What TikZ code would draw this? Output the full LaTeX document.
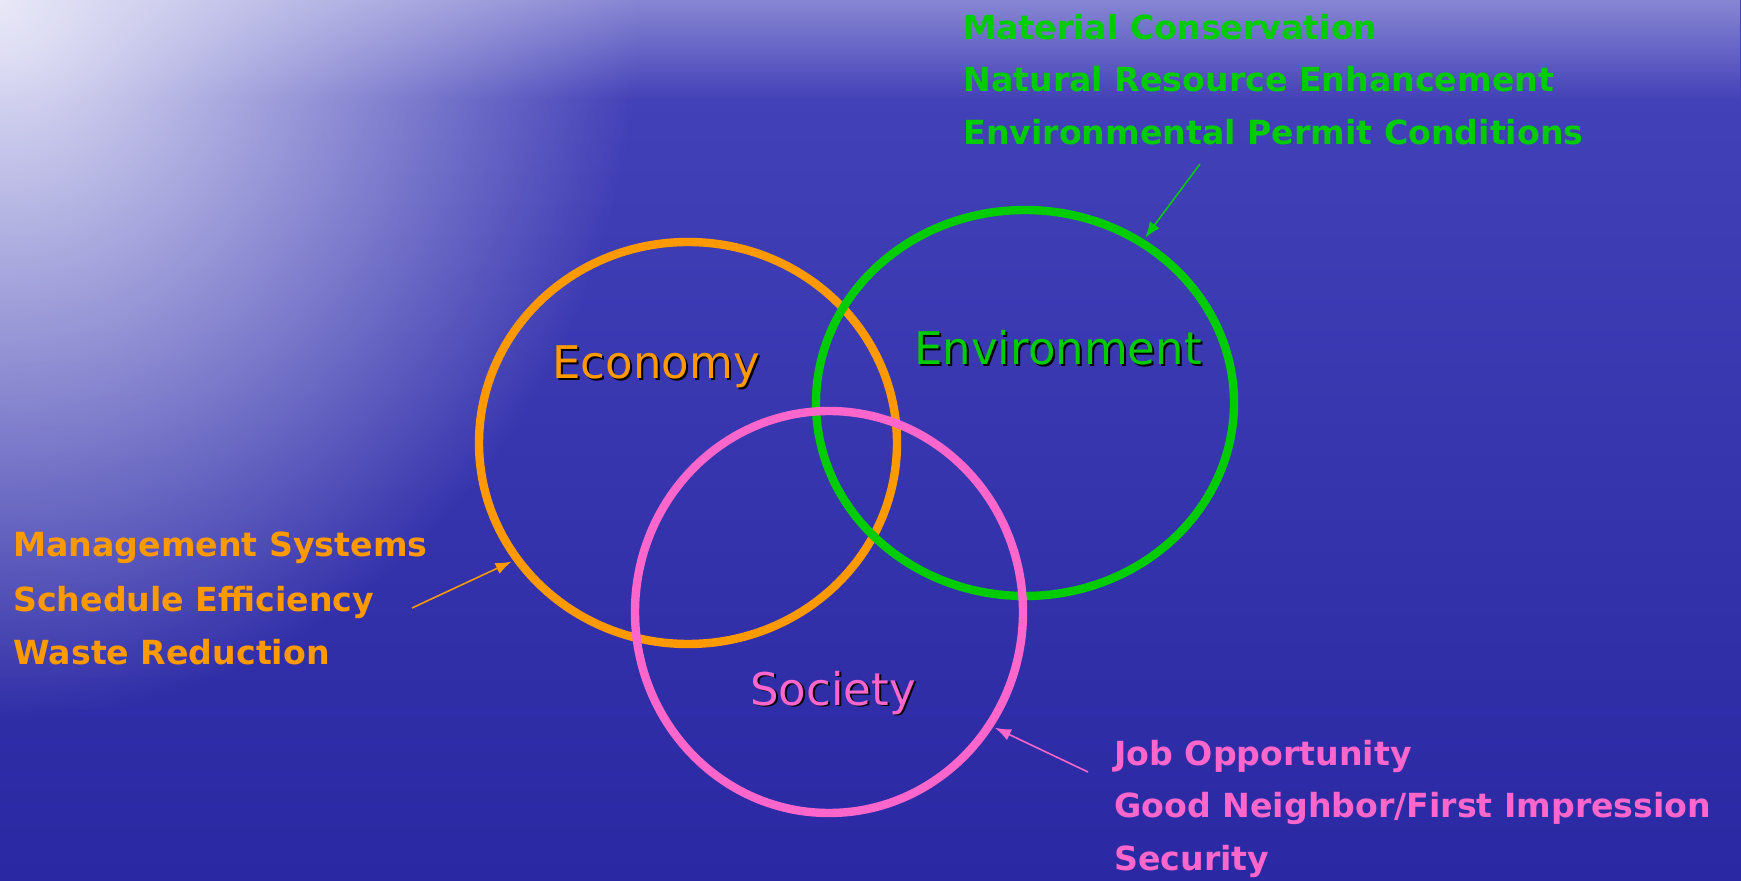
\documentclass[tikz,border=0pt]{standalone}
\usepackage{fontspec}
\setmainfont{DejaVu Sans}
\usetikzlibrary{shapes.geometric, fadings, arrows.meta}

\definecolor{seablue}{RGB}{42,40,162}
\definecolor{skyblue}{RGB}{70,68,186}
\definecolor{haze}{RGB}{232,232,248}
\definecolor{ecoorange}{RGB}{255,153,0}
\definecolor{envgreen}{RGB}{0,204,0}
\definecolor{socpink}{RGB}{255,102,204}

\tikzfading[name=glowfade, inner color=transparent!0, outer color=transparent!100]
\tikzfading[name=topfade, top color=transparent!0, bottom color=transparent!100]

% black copy behind the circle titles
\newcommand{\dropped}[1]{\makebox[0pt][l]{\kern1pt\raisebox{-1pt}{\color{black}#1}}#1}

\tikzset{
  ring/.style={ellipse, draw, line width=4.2pt, inner sep=0pt},
  title/.style={font=\fontsize{22.5}{27}\selectfont, anchor=base, inner sep=0pt},
  item/.style={font=\bfseries\fontsize{16.6}{20}\selectfont, anchor=base west, inner sep=0pt},
  pointer/.style={->, line width=0.8pt, shorten >=1pt}
}

\begin{document}
\begin{tikzpicture}[x=0.5pt, y=-0.5pt, >={Latex[length=8pt,width=6pt]}]
  \useasboundingbox (0,0) rectangle (1741,881);
  % water backdrop
  \shade[top color=skyblue, bottom color=seablue] (0,0) rectangle (1741,881);
  \fill[haze!40!skyblue, path fading=topfade] (0,0) rectangle (1741,100);
  \begin{scope}
    \clip (0,0) rectangle (1741,881);
    \fill[haze, path fading=glowfade] (0,0) ellipse (640 and 720);
  \end{scope}

  % the three circles
  \node[ring, draw=ecoorange, minimum width=209pt, minimum height=201pt] (eco) at (688,443) {};
  \node[ring, draw=envgreen, minimum width=209pt, minimum height=193pt] (env) at (1025,403) {};
  \node[ring, draw=socpink, minimum width=194pt, minimum height=201pt] (soc) at (829,612) {};

  \node[title, ecoorange] (ecotitle) at (656,379) {\dropped{Economy}};
  \node[title, envgreen] (envtitle) at (1058,365) {\dropped{Environment}};
  \node[title, socpink] (soctitle) at (833,705) {\dropped{Society}};

  % environment items
  \node[item, envgreen] (mat) at (963,40) {Material Conservation};
  \node[item, envgreen] (nat) at (963,92) {Natural Resource Enhancement};
  \node[item, envgreen] (perm) at (963,145) {Environmental Permit Conditions};

  % economy items
  \node[item, ecoorange] (mgmt) at (13,557) {Management Systems};
  \node[item, ecoorange] (sched) at (13,612) {Schedule Efficiency};
  \node[item, ecoorange] (waste) at (13,665) {Waste Reduction};

  % society items
  \node[item, socpink] (job) at (1114,765) {Job Opportunity};
  \node[item, socpink] (good) at (1114,817) {Good Neighbor/First Impression};
  \node[item, socpink] (sec) at (1114,870) {Security};

  \coordinate (envfrom) at (1200,164);
  \coordinate (ecofrom) at (412,608);
  \coordinate (socfrom) at (1088,772);
  \draw[pointer, envgreen] (envfrom) -- (env.54);
  \draw[pointer, ecoorange] (ecofrom) -- (eco.214);
  \draw[pointer, socpink] (socfrom) -- (soc.325);
\end{tikzpicture}
\end{document}
